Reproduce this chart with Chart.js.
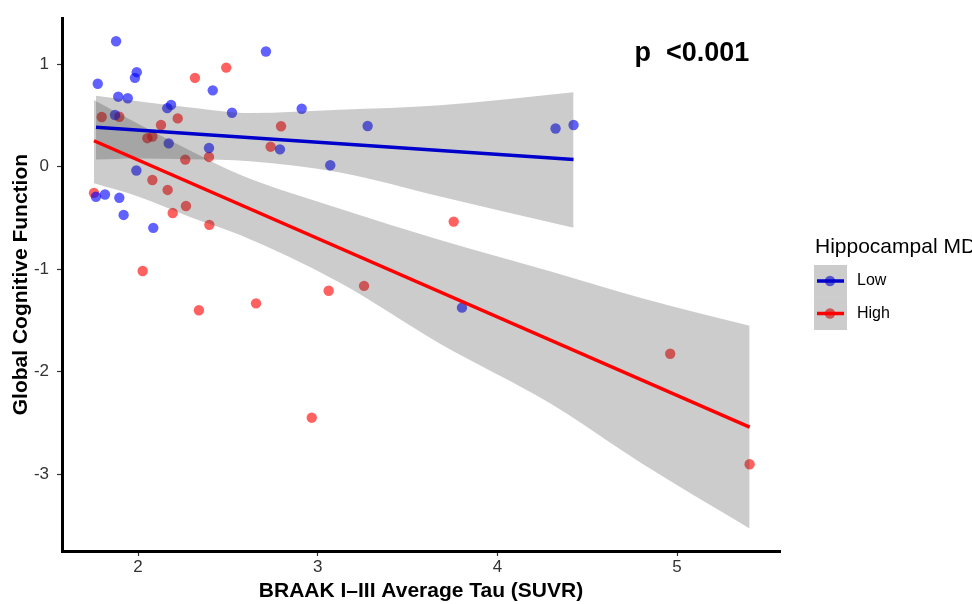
<!DOCTYPE html>
<html>
<head>
<meta charset="utf-8">
<script src="https://cdn.jsdelivr.net/npm/chart.js@4.4.0/dist/chart.umd.min.js"></script>
<style>
  html, body { margin: 0; padding: 0; background: #fff; }
</style>
</head>
<body>
<canvas id="chart" width="972" height="604"></canvas>
<script>
// Low hippocampal MD group
const lowTau = [1.878, 1.776, 1.993, 1.983, 1.890, 1.943, 2.416, 2.184, 2.163, 2.523, 1.872, 2.171, 2.395, 1.991,
  1.766, 1.816, 1.896, 1.920, 2.085, 2.712, 2.911, 3.278, 2.790, 3.070, 3.803, 4.324, 4.424];
const lowCog = [1.225, 0.810, 0.923, 0.868, 0.684, 0.669, 0.746, 0.604, 0.572, 0.527, 0.505, 0.228, 0.183, -0.036,
  -0.293, -0.271, -0.303, -0.470, -0.596, 1.125, 0.566, 0.398, 0.170, 0.015, -1.375, 0.373, 0.408];

// High hippocampal MD group
const highTau = [2.317, 2.491, 1.798, 1.896, 2.128, 2.221, 2.052, 2.080, 2.263, 2.395, 2.080, 2.165, 2.267, 2.193,
  2.397, 1.755, 2.026, 2.339, 2.657, 3.061, 2.796, 2.738, 3.757, 3.258, 2.967, 4.962, 5.404];
const highCog = [0.868, 0.968, 0.486, 0.488, 0.408, 0.472, 0.279, 0.295, 0.070, 0.096, -0.129, -0.226, -0.383, -0.451,
  -0.567, -0.255, -1.017, -1.400, -1.333, -1.210, 0.395, 0.196, -0.535, -1.162, -2.449, -1.825, -2.903];

// fitted lines (end points)
const lowFitX = [1.766, 4.424];
const lowFitY = [0.385, 0.070];
const highFitX = [1.755, 5.404];
const highFitY = [0.254, -2.540];

// confidence bands
const lowBandX = [1.766, 2.0, 2.289, 2.623, 3.124, 3.681, 4.424];
const lowBandHi = [0.694, 0.640, 0.578, 0.524, 0.556, 0.600, 0.727];
const lowBandLo = [0.070, 0.080, 0.073, 0.055, -0.055, -0.290, -0.596];
const highBandX = [1.755, 2.0, 2.289, 2.568, 3.124, 3.681, 4.293, 4.8, 5.404];
const highBandHi = [0.652, 0.420, 0.160, -0.078, -0.409, -0.715, -1.020, -1.280, -1.551];
const highBandLo = [-0.161, -0.290, -0.490, -0.667, -1.133, -1.727, -2.308, -2.890, -3.530];

const xTicks = [2, 3, 4, 5];
const yTicks = [-3, -2, -1, 0, 1];
const groups = ['Low', 'High'];
const pLabel = 'p  <0.001';
const pPos = [5.083, 1.03];

const FONT = '"Liberation Sans", Arial, Helvetica, sans-serif';
const bandFill = 'rgba(51, 51, 51, 0.25)';
const pointColors = ['rgba(0, 0, 255, 0.62)', 'rgba(255, 0, 0, 0.62)'];
const lineColors = ['#0000cd', '#ff0000'];

const toXY = (xs, ys) => xs.map((x, i) => ({x: x, y: ys[i]}));

const bandStyle = {
    borderWidth: 0,
    pointRadius: 0,
    cubicInterpolationMode: 'monotone',
    order: 2
};

const datasets = [
    {
        label: 'low fit',
        data: toXY(lowFitX, lowFitY),
        borderColor: lineColors[0],
        borderWidth: 3.5,
        pointRadius: 0,
        fill: false,
        order: 1
    },
    {
        label: 'high fit',
        data: toXY(highFitX, highFitY),
        borderColor: lineColors[1],
        borderWidth: 3.5,
        pointRadius: 0,
        fill: false,
        order: 1
    },
    Object.assign({label: 'low band hi', data: toXY(lowBandX, lowBandHi), fill: '+1', backgroundColor: bandFill}, bandStyle),
    Object.assign({label: 'low band lo', data: toXY(lowBandX, lowBandLo), fill: false}, bandStyle),
    Object.assign({label: 'high band hi', data: toXY(highBandX, highBandHi), fill: '+1', backgroundColor: bandFill}, bandStyle),
    Object.assign({label: 'high band lo', data: toXY(highBandX, highBandLo), fill: false}, bandStyle),
    {
        label: 'Low',
        data: toXY(lowTau, lowCog),
        showLine: false,
        pointRadius: 5.2,
        pointBorderWidth: 0,
        pointBackgroundColor: pointColors[0],
        order: 3
    },
    {
        label: 'High',
        data: toXY(highTau, highCog),
        showLine: false,
        pointRadius: 5.2,
        pointBorderWidth: 0,
        pointBackgroundColor: pointColors[1],
        order: 3
    }
];

// p value text and the legend on the right
const extras = {
    id: 'extras',
    afterDraw(chart) {
        const ctx = chart.ctx;
        const xs = chart.scales.x;
        const ys = chart.scales.y;
        ctx.save();
        ctx.fillStyle = '#000';
        ctx.font = 'bold 27px ' + FONT;
        ctx.textAlign = 'center';
        ctx.textBaseline = 'alphabetic';
        ctx.fillText(pLabel, xs.getPixelForValue(pPos[0]), ys.getPixelForValue(pPos[1]));

        ctx.textAlign = 'left';
        ctx.font = '21px ' + FONT;
        ctx.fillText('Hippocampal MD', 815, 253);

        groups.forEach((g, i) => {
            const top = 265 + i * 32.5;
            const cy = top + 16;
            ctx.fillStyle = pointColors[i];
            ctx.beginPath();
            ctx.arc(830, cy, 5.2, 0, Math.PI * 2);
            ctx.fill();
            ctx.fillStyle = bandFill;
            ctx.fillRect(814, top, 33, 32.5);
            ctx.strokeStyle = lineColors[i];
            ctx.lineWidth = 3.5;
            ctx.beginPath();
            ctx.moveTo(817, cy);
            ctx.lineTo(844, cy);
            ctx.stroke();
            ctx.fillStyle = '#000';
            ctx.font = '16px ' + FONT;
            ctx.textBaseline = 'middle';
            ctx.fillText(g, 857, cy);
            ctx.textBaseline = 'alphabetic';
        });
        ctx.restore();
    }
};

const ctx = document.getElementById('chart').getContext('2d');
new Chart(ctx, {
    type: 'line',
    data: {datasets: datasets},
    plugins: [extras],
    options: {
        responsive: false,
        animation: false,
        layout: {padding: {left: 0, right: 192, top: 12, bottom: 0}},
        plugins: {
            legend: {display: false},
            tooltip: {enabled: false}
        },
        scales: {
            x: {
                type: 'linear',
                min: 1.577,
                max: 5.573,
                afterBuildTicks: (s) => { s.ticks = xTicks.map(v => ({value: v})); },
                afterFit: (s) => { s.height = 53; },
                ticks: {
                    font: {family: FONT, size: 17},
                    color: '#333',
                    padding: 1,
                    maxRotation: 0
                },
                grid: {
                    drawOnChartArea: false,
                    drawTicks: true,
                    tickLength: 5,
                    tickColor: '#333',
                    tickWidth: 1.2
                },
                border: {display: true, color: '#000', width: 3},
                title: {
                    display: true,
                    text: 'BRAAK I\u2013III Average Tau (SUVR)',
                    font: {family: FONT, size: 21, weight: 'bold'},
                    color: '#000',
                    padding: {top: 0, bottom: 0}
                }
            },
            y: {
                type: 'linear',
                min: -3.75,
                max: 1.45,
                afterBuildTicks: (s) => { s.ticks = yTicks.map(v => ({value: v})); },
                afterFit: (s) => { s.width = 62; },
                ticks: {
                    font: {family: FONT, size: 17},
                    color: '#333',
                    padding: 8
                },
                grid: {
                    drawOnChartArea: false,
                    drawTicks: true,
                    tickLength: 5,
                    tickColor: '#333',
                    tickWidth: 1.2
                },
                border: {display: true, color: '#000', width: 3},
                title: {
                    display: true,
                    text: 'Global Cognitive Function',
                    font: {family: FONT, size: 21, weight: 'bold'},
                    color: '#000',
                    padding: {top: 9, bottom: 0}
                }
            }
        }
    }
});
</script>
</body>
</html>
